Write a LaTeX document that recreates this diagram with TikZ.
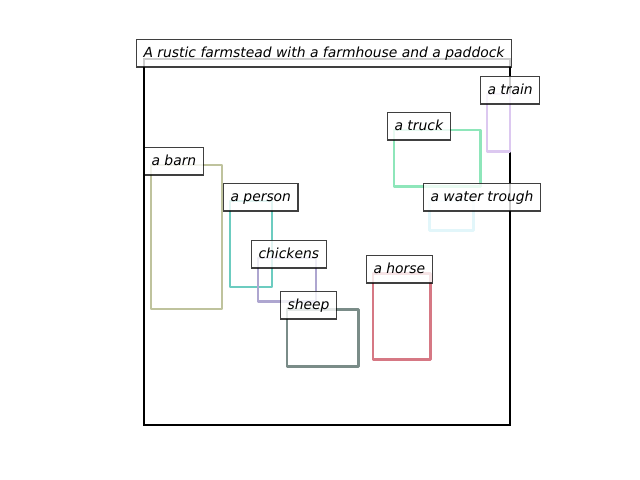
\documentclass[tikz,border=0pt]{standalone}
\usepackage{fontspec}
\setmainfont{DejaVu Sans}
\begin{document}
\begin{tikzpicture}[x=0.72pt,y=-0.72pt,
  lblbase/.style={draw=black,draw opacity=0.75,fill=white,fill opacity=0.8,text opacity=1,
    line width=0.75pt,inner sep=5pt,text height=7.9pt,text depth=2.2pt,
    font=\fontsize{10}{12}\selectfont\itshape},
  lbl/.style={lblbase,anchor=base west,xshift=-5pt},
  obox/.style={line width=1.6pt,line join=round}]
\useasboundingbox (0,0) rectangle (640,480);
\definecolor{cbarn}{HTML}{BFC39D}
\definecolor{cperson}{HTML}{6CCCC0}
\definecolor{cchick}{HTML}{AEA6D0}
\definecolor{csheep}{HTML}{7A8C88}
\definecolor{chorse}{HTML}{D67884}
\definecolor{ctruck}{HTML}{8EE6BA}
\definecolor{ctrain}{HTML}{DCC8F0}
\definecolor{ctrough}{HTML}{E2F6FA}
% axes frame
\draw[line width=1.6pt] (144,59) rectangle (510,425);
% object boxes
\draw[obox,cbarn] (151,165) rectangle (222,309);
\draw[obox,cperson] (230,201) rectangle (272,287);
\draw[obox,cchick] (258,258) rectangle (316,301.5);
\draw[obox,csheep] (287,309.5) rectangle (358.5,366.5);
\draw[obox,chorse] (373,273.5) rectangle (430.5,359.5);
\draw[obox,ctruck] (394,130) rectangle (480.5,186.5);
\draw[obox,ctrain] (487,94) rectangle (510,151.5);
\draw[obox,ctrough] (429.5,201) rectangle (473.5,230.5);
% labels
\node[lbl] (barn) at (151,165) {a barn};
\node[lbl] (person) at (230,201) {a person};
\node[lbl] (chick) at (258,258) {chickens};
\node[lbl] (sheep) at (287,309) {sheep};
\node[lbl] (horse) at (373,273) {a horse};
\node[lbl] (truck) at (394,130) {a truck};
\node[lbl] (train) at (487,94) {a train};
\node[lbl] (trough) at (430,201) {a water trough};
% title
\node[lblbase,anchor=base] (title) at (324,57) {A rustic farmstead with a farmhouse and a paddock};
\end{tikzpicture}
\end{document}
